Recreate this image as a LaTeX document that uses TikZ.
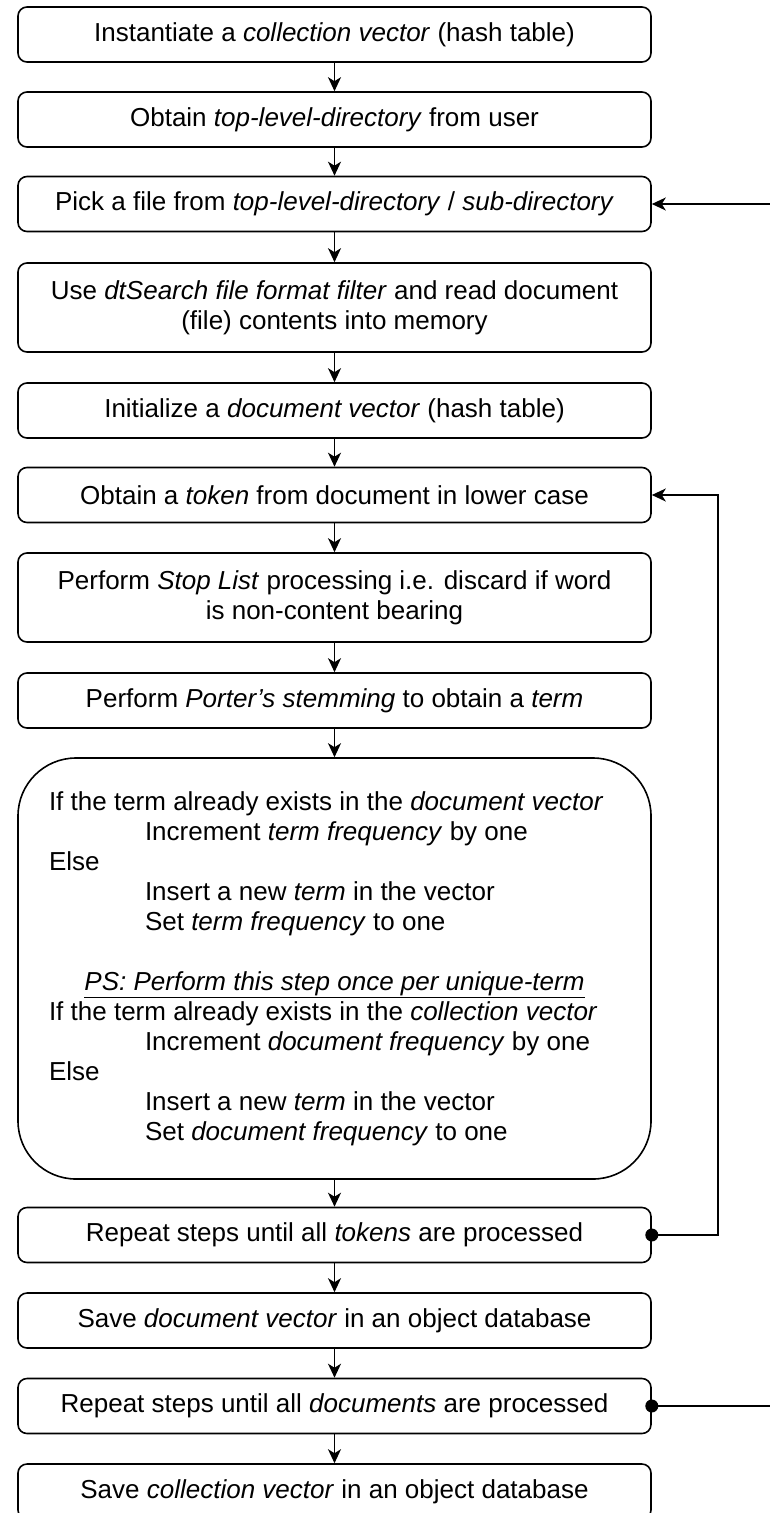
\documentclass[tikz,border=0pt]{standalone}
\usepackage{fontspec}
\setmainfont{Liberation Sans}
\usetikzlibrary{arrows.meta}
\begin{document}
\begin{tikzpicture}[x=1pt,y=-1pt,
  stepbox/.style={draw, line width=1.6pt, rounded corners=9pt, minimum width=633pt, minimum height=55pt,
    inner sep=0pt, align=center, font=\fontsize{26}{30}\selectfont},
  conn/.style={line width=1.4pt, -{Stealth[length=14pt,width=13pt,inset=4pt]}},
  loopline/.style={line width=1.4pt}
]
\useasboundingbox (0,0) rectangle (770,1513);
\node[stepbox] (b1) at (334.5,34.5) {Instantiate a \textit{collection vector} (hash table)};
\node[stepbox] (b2) at (334.5,119.5) {Obtain \textit{top-level-directory} from user};
\node[stepbox] (b3) at (334.5,204) {Pick a file from \textit{top-level-directory} / \textit{sub-directory}};
\node[stepbox, minimum height=89pt] (b4) at (334.5,307.5) {Use \textit{dtSearch file format filter} and read document\\(file) contents into memory};
\node[stepbox] (b5) at (334.5,410.5) {Initialize a \textit{document vector} (hash table)};
\node[stepbox] (b6) at (334.5,495) {Obtain a \textit{token} from document in lower case};
\node[stepbox, minimum height=89pt] (b7) at (334.5,597.5) {Perform \textit{Stop List} processing i.e. discard if word\\is non-content bearing};
\node[stepbox] (b8) at (334.5,700.5) {Perform \textit{Porter's stemming} to obtain a \textit{term}};
\node[stepbox, minimum height=421pt, rounded corners=58pt, align=left] (b9) at (334.5,968.5) {%
\parbox{571pt}{\fontsize{26}{30}\selectfont
If the term already exists in the \textit{document vector}\\
\hspace*{96pt}Increment \textit{term frequency} by one\\
Else\\
\hspace*{96pt}Insert a new \textit{term} in the vector\\
\hspace*{96pt}Set \textit{term frequency} to one\\
\mbox{}\\
\makebox[571pt][c]{\underline{\textit{PS: Perform this step once per unique-term}}}\\
If the term already exists in the \textit{collection vector}\\
\hspace*{96pt}Increment \textit{document frequency} by one\\
Else\\
\hspace*{96pt}Insert a new \textit{term} in the vector\\
\hspace*{96pt}Set \textit{document frequency} to one}};
\node[stepbox] (b10) at (334.5,1235) {Repeat steps until all \textit{tokens} are processed};
\node[stepbox] (b11) at (334.5,1320.5) {Save \textit{document vector} in an object database};
\node[stepbox] (b12) at (334.5,1406) {Repeat steps until all \textit{documents} are processed};
\node[stepbox] (b13) at (334.5,1491.5) {Save \textit{collection vector} in an object database};

\foreach \a/\b in {b1/b2,b2/b3,b3/b4,b4/b5,b5/b6,b6/b7,b7/b8,b8/b9,b9/b10,b10/b11,b11/b12,b12/b13}
  \draw[conn] (\a.south) -- (\b.north);

\coordinate (r1) at (718,495);
\draw[conn] (b10.east) -| (r1) -- (b6.east);
\fill (b10.east) circle (6.5pt);
\coordinate (e1) at (770,1406);
\coordinate (e2) at (770,204);
\draw[loopline] (b12.east) -- (e1);
\fill (b12.east) circle (6.5pt);
\draw[conn] (e2) -- (b3.east);
\end{tikzpicture}
\end{document}
